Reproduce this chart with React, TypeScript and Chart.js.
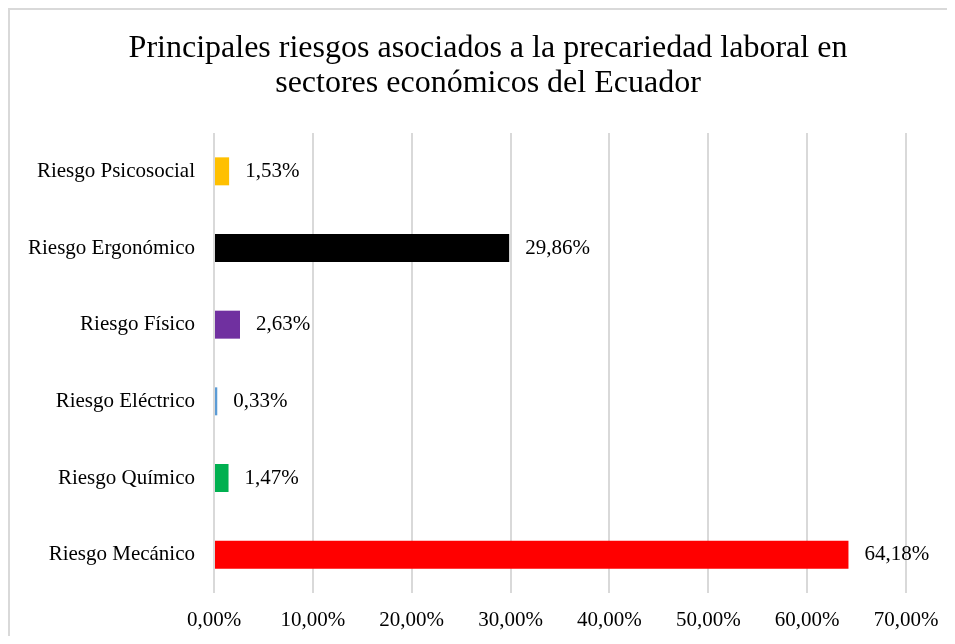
import React, { useEffect, useRef } from "react";
import { Chart, registerables } from "chart.js";

Chart.register(...registerables);

const categories = [
  "Riesgo Psicosocial",
  "Riesgo Ergonómico",
  "Riesgo Físico",
  "Riesgo Eléctrico",
  "Riesgo Químico",
  "Riesgo Mecánico",
];
const values = [1.53, 29.86, 2.63, 0.33, 1.47, 64.18];
const barColors = ["#FFC000", "#000000", "#7030A0", "#5B9BD5", "#00B050", "#FF0000"];
const titleLines = [
  "Principales riesgos asociados a la precariedad laboral en",
  "sectores económicos del Ecuador",
];
const xMin = 0;
const xMax = 70;
const xStep = 10;

const FONT = "'Liberation Serif', 'Times New Roman', serif";
const fmt = (v: number) => v.toFixed(2).replace(".", ",") + "%";

const valueLabels = {
  id: "valueLabels",
  afterDatasetsDraw(chart: any) {
    const ctx = chart.ctx;
    const meta = chart.getDatasetMeta(0);
    ctx.save();
    ctx.font = `21px ${FONT}`;
    ctx.fillStyle = "#000000";
    ctx.textAlign = "left";
    ctx.textBaseline = "middle";
    meta.data.forEach((bar: any, i: number) => {
      ctx.fillText(fmt(values[i]), bar.x + 16, bar.y);
    });
    ctx.restore();
  },
};

const titleDraw = {
  id: "titleDraw",
  afterDraw(chart: any) {
    const ctx = chart.ctx;
    ctx.save();
    ctx.font = `32px ${FONT}`;
    ctx.fillStyle = "#000000";
    ctx.textAlign = "center";
    ctx.textBaseline = "alphabetic";
    titleLines.forEach((line, i) => {
      ctx.fillText(line, 480, 49 + i * 35);
    });
    ctx.restore();
  },
};

export default function App() {
  const ref = useRef<HTMLCanvasElement | null>(null);
  useEffect(() => {
    if (!ref.current) return;
    const chart = new Chart(ref.current, {
      type: "bar",
      data: {
        labels: categories,
        datasets: [
          {
            data: values,
            backgroundColor: barColors,
            borderWidth: 0,
            categoryPercentage: 1,
            barPercentage: 0.365,
          },
        ],
      },
      options: {
        indexAxis: "y",
        animation: false,
        responsive: false,
        maintainAspectRatio: false,
        layout: { padding: { left: 0, right: 49, top: 125, bottom: 0 } },
        plugins: {
          legend: { display: false },
          tooltip: { enabled: false },
          title: { display: false },
        },
        scales: {
          x: {
            min: xMin,
            max: xMax,
            ticks: {
              stepSize: xStep,
              color: "#000000",
              font: { family: FONT, size: 21 },
              padding: 15,
              callback: (v: any) => fmt(Number(v)),
            },
            grid: { color: "#d9d9d9", lineWidth: 2, drawTicks: false },
            border: { display: false },
            afterFit: (s: any) => {
              s.height = 43;
            },
          },
          y: {
            ticks: {
              color: "#000000",
              font: { family: FONT, size: 21 },
              padding: 19,
            },
            grid: { display: false, drawTicks: false },
            border: { display: false },
            afterFit: (s: any) => {
              s.width = 206;
            },
          },
        },
      },
      plugins: [valueLabels, titleDraw],
    });
    return () => chart.destroy();
  }, []);

  return (
    <div style={{ position: "relative", width: 947, height: 628 }}>
      <canvas
        ref={ref}
        width={947}
        height={628}
        style={{ position: "absolute", left: 0, top: 0, width: 947, height: 628 }}
      />
      <div
        style={{
          position: "absolute",
          left: 0,
          top: 0,
          width: 947,
          height: 628,
          boxSizing: "border-box",
          borderLeft: "2px solid #d9d9d9",
          borderTop: "2px solid #d9d9d9",
          pointerEvents: "none",
        }}
      />
    </div>
  );
}
